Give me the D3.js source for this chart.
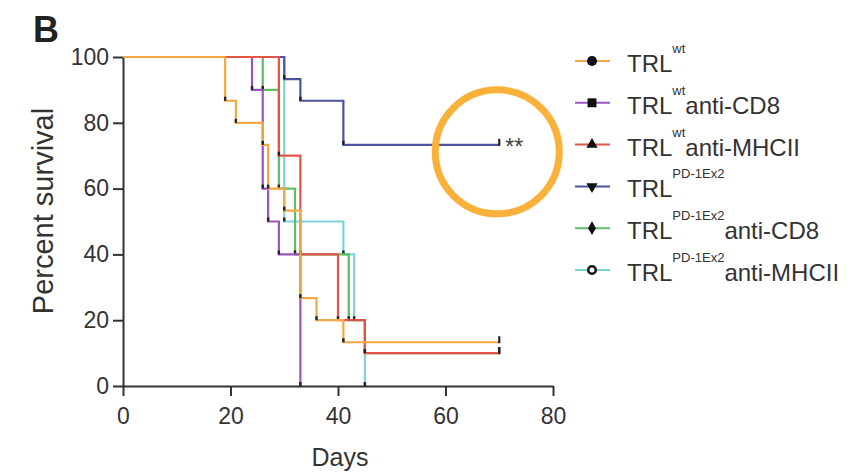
<!DOCTYPE html>
<html>
<head>
<meta charset="utf-8">
<script src="https://cdn.jsdelivr.net/npm/d3@7"></script>
<style>
  body { margin: 0; background: #fff; }
  svg { display: block; font-family: "Liberation Sans", Arial, sans-serif; }
  .axis path, .axis line { stroke: #333; stroke-width: 2; }
  .axis text { fill: #333; font-size: 23px; font-family: "Liberation Sans", Arial, sans-serif; }
</style>
</head>
<body>
<div id="chart"></div>
<script>
// survival data: event days and percent survival after each event
var wtDays = [19, 21, 26, 27, 30, 33, 36, 41];
var wtSurv = [86.7, 80, 73.3, 60, 53.3, 26.7, 20, 13.3];

var wtCd8Days = [24, 26, 27, 29, 33];
var wtCd8Surv = [90, 60, 50, 40, 0];

var wtMhcDays = [29, 33, 40, 45];
var wtMhcSurv = [70, 40, 20, 10];

var pdDays = [30, 33, 41];
var pdSurv = [93.3, 86.7, 73.3];

var pdCd8Days = [26, 29, 32, 42, 45];
var pdCd8Surv = [90, 60, 40, 20, 10];

var pdMhcDays = [30, 41, 43, 45];
var pdMhcSurv = [50, 40, 20, 0];

var endDay = 70;
var xTicks = [0, 20, 40, 60, 80];
var yTicks = [0, 20, 40, 60, 80, 100];

var series = [
    {name: "TRL", sup: "wt", rest: "", days: wtDays, surv: wtSurv, color: "#f3a845", symbol: "circle"},
    {name: "TRL", sup: "wt", rest: "anti-CD8", days: wtCd8Days, surv: wtCd8Surv, color: "#9b55be", symbol: "square"},
    {name: "TRL", sup: "wt", rest: "anti-MHCII", days: wtMhcDays, surv: wtMhcSurv, color: "#e15546", symbol: "triangleUp"},
    {name: "TRL", sup: "PD-1Ex2", rest: "", days: pdDays, surv: pdSurv, color: "#4b55a0", symbol: "triangleDown"},
    {name: "TRL", sup: "PD-1Ex2", rest: "anti-CD8", days: pdCd8Days, surv: pdCd8Surv, color: "#5fbe64", symbol: "diamond"},
    {name: "TRL", sup: "PD-1Ex2", rest: "anti-MHCII", days: pdMhcDays, surv: pdMhcSurv, color: "#7dd2dc", symbol: "openCircle"}
];

// draw order (bottom to top)
var drawOrder = [5, 4, 3, 1, 2, 0];

var width = 864, height = 473;

var svg = d3.select("#chart").append("svg")
    .attr("width", width)
    .attr("height", height);

var x = d3.scaleLinear().domain([0, 80]).range([123, 553]);
var y = d3.scaleLinear().domain([0, 100]).range([386, 57]);

// Axes
var yAxis = d3.axisLeft(y).tickValues(yTicks).tickSize(10).tickSizeOuter(0).tickPadding(4);
var xAxis = d3.axisBottom(x).tickValues(xTicks).tickSize(10).tickSizeOuter(0).tickPadding(12);

svg.append("g")
    .attr("class", "axis")
    .attr("transform", "translate(" + x(0) + ",0)")
    .call(yAxis);

svg.append("g")
    .attr("class", "axis")
    .attr("transform", "translate(0," + y(0) + ")")
    .call(xAxis);

svg.selectAll(".axis text").attr("fill", "#333");

// Axis titles
svg.append("text")
    .attr("transform", "translate(53," + 211 + ") rotate(-90)")
    .attr("text-anchor", "middle")
    .attr("fill", "#333")
    .style("font-size", "29px")
    .text("Percent survival");

svg.append("text")
    .attr("x", (x(0) + x(80)) / 2 + 2)
    .attr("y", 466)
    .attr("text-anchor", "middle")
    .attr("fill", "#333")
    .style("font-size", "25px")
    .text("Days");

svg.append("text")
    .attr("x", 33)
    .attr("y", 42)
    .attr("fill", "#222")
    .style("font-size", "36px")
    .style("font-weight", "bold")
    .text("B");

// Curves
var line = d3.line()
    .x(function (d) { return x(d[0]); })
    .y(function (d) { return y(d[1]); })
    .curve(d3.curveStepAfter);

drawOrder.forEach(function (i) {
    var s = series[i];
    var pts = [[0, 100]];
    s.days.forEach(function (t, k) {
        pts.push([t, s.surv[k]]);
    });
    var last = s.surv[s.surv.length - 1];
    if (last > 0) pts.push([endDay, last]);

    svg.append("path")
        .attr("d", line(pts))
        .attr("fill", "none")
        .attr("stroke", s.color)
        .attr("stroke-width", 2.2);

    // event marks at the bottom of each drop
    svg.selectAll(null)
        .data(s.days.map(function (t, k) { return [t, s.surv[k]]; }))
        .enter().append("rect")
        .attr("x", function (d) { return x(d[0]) - 1.2; })
        .attr("y", function (d) { return y(d[1]) - 4; })
        .attr("width", 2.4)
        .attr("height", 4)
        .attr("fill", "#222");

    // censor tick at end of follow-up
    if (last > 0) {
        svg.append("line")
            .attr("x1", x(endDay)).attr("x2", x(endDay))
            .attr("y1", y(last) - 6).attr("y2", y(last) + 1)
            .attr("stroke", "#222")
            .attr("stroke-width", 2.2);
    }
});

// significance
svg.append("text")
    .attr("x", x(endDay) + 6)
    .attr("y", y(pdSurv[pdSurv.length - 1]) + 10)
    .attr("fill", "#444")
    .style("font-size", "23px")
    .text("**");

svg.append("circle")
    .attr("cx", x(endDay) - 2)
    .attr("cy", y(pdSurv[pdSurv.length - 1]) + 7)
    .attr("r", 62)
    .attr("fill", "none")
    .attr("stroke", "#f9b13a")
    .attr("stroke-width", 7);

// Legend
var legend = svg.append("g").attr("transform", "translate(575,61)");

var symbolTypes = {
    circle: d3.symbolCircle,
    square: d3.symbolSquare,
    triangleUp: d3.symbolTriangle,
    triangleDown: d3.symbolTriangle,
    diamond: d3.symbolDiamond,
    openCircle: d3.symbolCircle
};

var symbolSizes = {circle: 80, square: 80, triangleUp: 55, triangleDown: 55, diamond: 55, openCircle: 45};

var rows = legend.selectAll(".legend-row")
    .data(series)
    .enter().append("g")
    .attr("class", "legend-row")
    .attr("transform", function (d, i) { return "translate(0," + (i * 41.8) + ")"; });

rows.append("line")
    .attr("x1", 0).attr("x2", 35)
    .attr("stroke", function (d) { return d.color; })
    .attr("stroke-width", 2);

rows.append("path")
    .attr("transform", function (d) {
        return "translate(17,0)" + (d.symbol === "triangleDown" ? " rotate(180)" : "");
    })
    .attr("d", function (d) {
        return d3.symbol().type(symbolTypes[d.symbol]).size(symbolSizes[d.symbol])();
    })
    .attr("fill", function (d) { return d.symbol === "openCircle" ? "#fff" : "#111"; })
    .attr("stroke", "#111")
    .attr("stroke-width", function (d) { return d.symbol === "openCircle" ? 2.5 : 0; });

var label = rows.append("text")
    .attr("x", 52)
    .attr("y", 11)
    .attr("fill", "#333")
    .style("font-size", "24px");

label.append("tspan").text(function (d) { return d.name; });
label.append("tspan")
    .attr("dy", -19)
    .style("font-size", "13px")
    .text(function (d) { return d.sup; });
label.append("tspan")
    .attr("dy", 19)
    .text(function (d) { return d.rest; });
</script>
</body>
</html>
